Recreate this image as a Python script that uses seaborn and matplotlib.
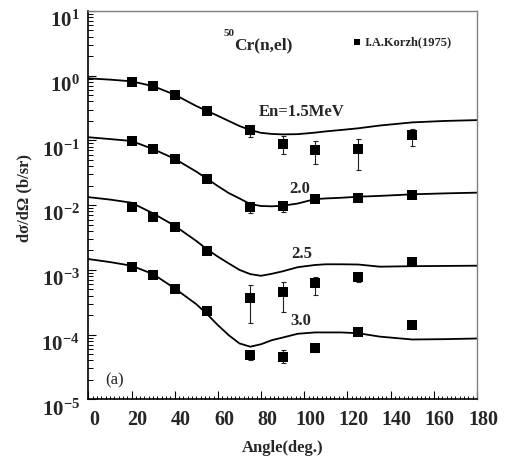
import numpy as np
import pandas as pd
import matplotlib
matplotlib.use("Agg")
import matplotlib.pyplot as plt
import seaborn as sns
from matplotlib.transforms import ScaledTranslation
from matplotlib.ticker import LogLocator, MultipleLocator, NullFormatter, FixedLocator, FixedFormatter

# ---------------- data ----------------
energies = ["1.5", "2.0", "2.5", "3.0"]

curve_angle = [0, 10, 20, 30, 40, 50, 55, 60, 65, 70, 75, 80, 85, 90, 97, 105, 110, 117, 125, 135, 150, 165, 180]
curve_15 = [0.91, 0.87, 0.82, 0.69, 0.51, 0.34, 0.285, 0.24, 0.20, 0.167, 0.145, 0.131, 0.126, 0.124, 0.125,
            0.132, 0.138, 0.145, 0.154, 0.17, 0.19, 0.20, 0.206]
curve_20 = [0.112, 0.105, 0.098, 0.0735, 0.052, 0.033, 0.0255, 0.0197, 0.0154, 0.0127, 0.0104, 0.0097, 0.0096,
            0.0098, 0.0106, 0.0124, 0.0127, 0.013, 0.0135, 0.0139, 0.0147, 0.0152, 0.0156]
curve_25 = [0.0133, 0.0122, 0.0109, 0.00746, 0.0048, 0.0028, 0.00207, 0.0016, 0.00126, 0.00100, 8.6e-4, 8.1e-4,
            8.7e-4, 9.5e-4, 1.1e-3, 1.19e-3, 1.22e-3, 1.22e-3, 1.21e-3, 1.12e-3, 1.14e-3, 1.15e-3, 1.16e-3]
curve_30 = [1.47e-3, 1.32e-3, 1.16e-3, 8.6e-4, 5.18e-4, 2.95e-4, 2.07e-4, 1.4e-4, 9.8e-5, 7.3e-5, 6.5e-5, 7.1e-5,
            8.2e-5, 9.0e-5, 1.03e-4, 1.08e-4, 1.08e-4, 1.08e-4, 1.05e-4, 9.3e-5, 8.4e-5, 8.5e-5, 8.7e-5]

exp_angle = [20, 30, 40, 55, 75, 90, 105, 125, 150]
exp_15 = [0.81, 0.686, 0.508, 0.284, 0.143, 0.088, 0.071, 0.073, 0.12]
exp_20 = [0.0968, 0.0728, 0.051, 0.0253, 0.00944, 0.00968, 0.0124, 0.0127, 0.0143]
exp_25 = [0.00944, 0.00662, 0.00464, 0.00197, 3.63e-4, 4.49e-4, 6.18e-4, 7.66e-4, 1.33e-3]
exp_30 = [1.09e-3, 8.3e-4, 5.05e-4, 2.31e-4, 4.82e-5, 4.54e-5, 6.12e-5, 1.08e-4, 1.39e-4]

# lower / upper ends of the error bars (nan = no visible bar)
nan = np.nan
low_15 = [nan, nan, nan, nan, 0.112, 0.062, 0.043, 0.035, 0.082]
high_15 = [nan, nan, nan, nan, 0.165, 0.116, 0.097, 0.106, 0.152]
low_20 = [nan, nan, nan, nan, 0.0075, 0.0078, 0.0115, nan, 0.0133]
high_20 = [nan, nan, nan, nan, 0.0112, 0.0112, 0.0133, nan, 0.0152]
low_25 = [nan, nan, nan, 0.00178, 1.49e-4, 2.25e-4, 4.1e-4, 6.47e-4, nan]
high_25 = [nan, nan, nan, 0.00215, 5.8e-4, 6.4e-4, 7.8e-4, 8.6e-4, nan]
low_30 = [nan, nan, nan, nan, 4.0e-5, 3.59e-5, 5.4e-5, nan, nan]
high_30 = [nan, nan, nan, nan, 5.6e-5, 5.8e-5, 6.8e-5, nan, nan]

y_tick_exp = [-5, -4, -3, -2, -1, 0, 1]
x_ticks = [0, 20, 40, 60, 80, 100, 120, 140, 160, 180]

# ---------------- frames ----------------
curves = pd.DataFrame({
    "angle": curve_angle * 4,
    "xs": curve_15 + curve_20 + curve_25 + curve_30,
    "E": np.repeat(energies, len(curve_angle)),
})
exp = pd.DataFrame({
    "angle": exp_angle * 4,
    "xs": exp_15 + exp_20 + exp_25 + exp_30,
    "low": low_15 + low_20 + low_25 + low_30,
    "high": high_15 + high_20 + high_25 + high_30,
    "E": np.repeat(energies, len(exp_angle)),
})

# ---------------- style ----------------
sns.set_theme(style="ticks")
plt.rcParams["font.family"] = ["Liberation Serif", "DejaVu Serif"]
plt.rcParams["font.weight"] = "bold"
plt.rcParams["mathtext.fontset"] = "custom"
plt.rcParams["mathtext.rm"] = "Liberation Serif"
plt.rcParams["mathtext.bf"] = "Liberation Serif:bold"

fig = plt.figure(figsize=(5.22, 4.62), dpi=100)
ax = fig.add_axes([0.1692, 0.1357, 0.7446, 0.8405])

sns.lineplot(data=curves, x="angle", y="xs", units="E", estimator=None, color="black",
             lw=1.3, ax=ax, legend=False)

eb = exp.dropna(subset=["low"])
ax.errorbar(eb["angle"], eb["xs"], yerr=[eb["xs"] - eb["low"], eb["high"] - eb["xs"]],
            fmt="none", ecolor="#222222", elinewidth=0.8, capsize=1.8, capthick=0.8, zorder=2)

sns.scatterplot(data=exp, x="angle", y="xs", marker="s", s=42, color="black", edgecolor="black",
                linewidth=0, ax=ax, zorder=3, label="I.A.Korzh(1975)")

ax.set_yscale("log")
ax.set_xlim(0, 180)
ax.set_ylim(1e-5, 10)

ax.yaxis.set_major_locator(FixedLocator([10.0 ** e for e in y_tick_exp]))
ax.yaxis.set_major_formatter(FixedFormatter([r"$\mathbf{10^{%d}}$" % e for e in y_tick_exp]))
ax.yaxis.set_minor_locator(LogLocator(base=10, subs=np.arange(2, 10)))
ax.yaxis.set_minor_formatter(NullFormatter())
ax.xaxis.set_major_locator(FixedLocator(x_ticks))
ax.xaxis.set_minor_locator(MultipleLocator(2))

ax.tick_params(which="both", direction="in", top=False, right=False, color="black")
ax.tick_params(axis="y", which="major", length=5.8, width=0.8, labelsize=15, pad=6)
ax.tick_params(axis="y", which="minor", length=3.6, width=0.7)
ax.tick_params(axis="x", which="major", length=5.5, width=0.8, labelsize=14.5, pad=8)
ax.tick_params(axis="x", which="minor", length=2.5, width=0.7)

for lab in ax.get_xticklabels():
    lab.set_fontweight("bold")
    lab.set_transform(lab.get_transform() + ScaledTranslation(6 / 100, 0, fig.dpi_scale_trans))
for lab in ax.get_yticklabels():
    lab.set_transform(lab.get_transform() + ScaledTranslation(0, -8 / 100, fig.dpi_scale_trans))

for s in ["left", "bottom"]:
    ax.spines[s].set_color("black")
    ax.spines[s].set_linewidth(1.2)
for s in ["top", "right"]:
    ax.spines[s].set_color("#808080")
    ax.spines[s].set_linewidth(1.0)

ax.set_xlabel("Angle(deg.)", fontsize=12, fontweight="bold")
ax.set_ylabel("d\u03c3/d\u03a9 (b/sr)", fontsize=12, fontweight="bold")
ax.xaxis.set_label_coords(0.501, -0.105)
ax.yaxis.set_label_coords(-0.145, 0.518)

# annotations
ax.text(78.8, 0.275, "En=1.5MeV", fontsize=12, fontweight="bold", ha="left", va="center")
ax.text(93.1, 0.0177, "2.0", fontsize=12, fontweight="bold", ha="left", va="center")
ax.text(93.9, 1.79e-3, "2.5", fontsize=12, fontweight="bold", ha="left", va="center")
ax.text(93.5, 1.64e-4, "3.0", fontsize=12, fontweight="bold", ha="left", va="center")
ax.text(8.0, 1.98e-5, "(a)", fontsize=12, fontweight="normal", ha="left", va="center")
ax.text(62.6, 4.49, "50", fontsize=8, fontweight="bold", ha="left", va="center")
ax.text(67.7, 2.98, "Cr(n,el)", fontsize=12.5, fontweight="bold", ha="left", va="center")

ax.legend(loc="center left", bbox_to_anchor=(0.678, 0.92), frameon=False, markerscale=0.6,
          handlelength=0.8, handletextpad=0.2, borderpad=0, borderaxespad=0,
          prop={"weight": "bold", "size": 9})

fig.savefig("out.png", dpi=100)
